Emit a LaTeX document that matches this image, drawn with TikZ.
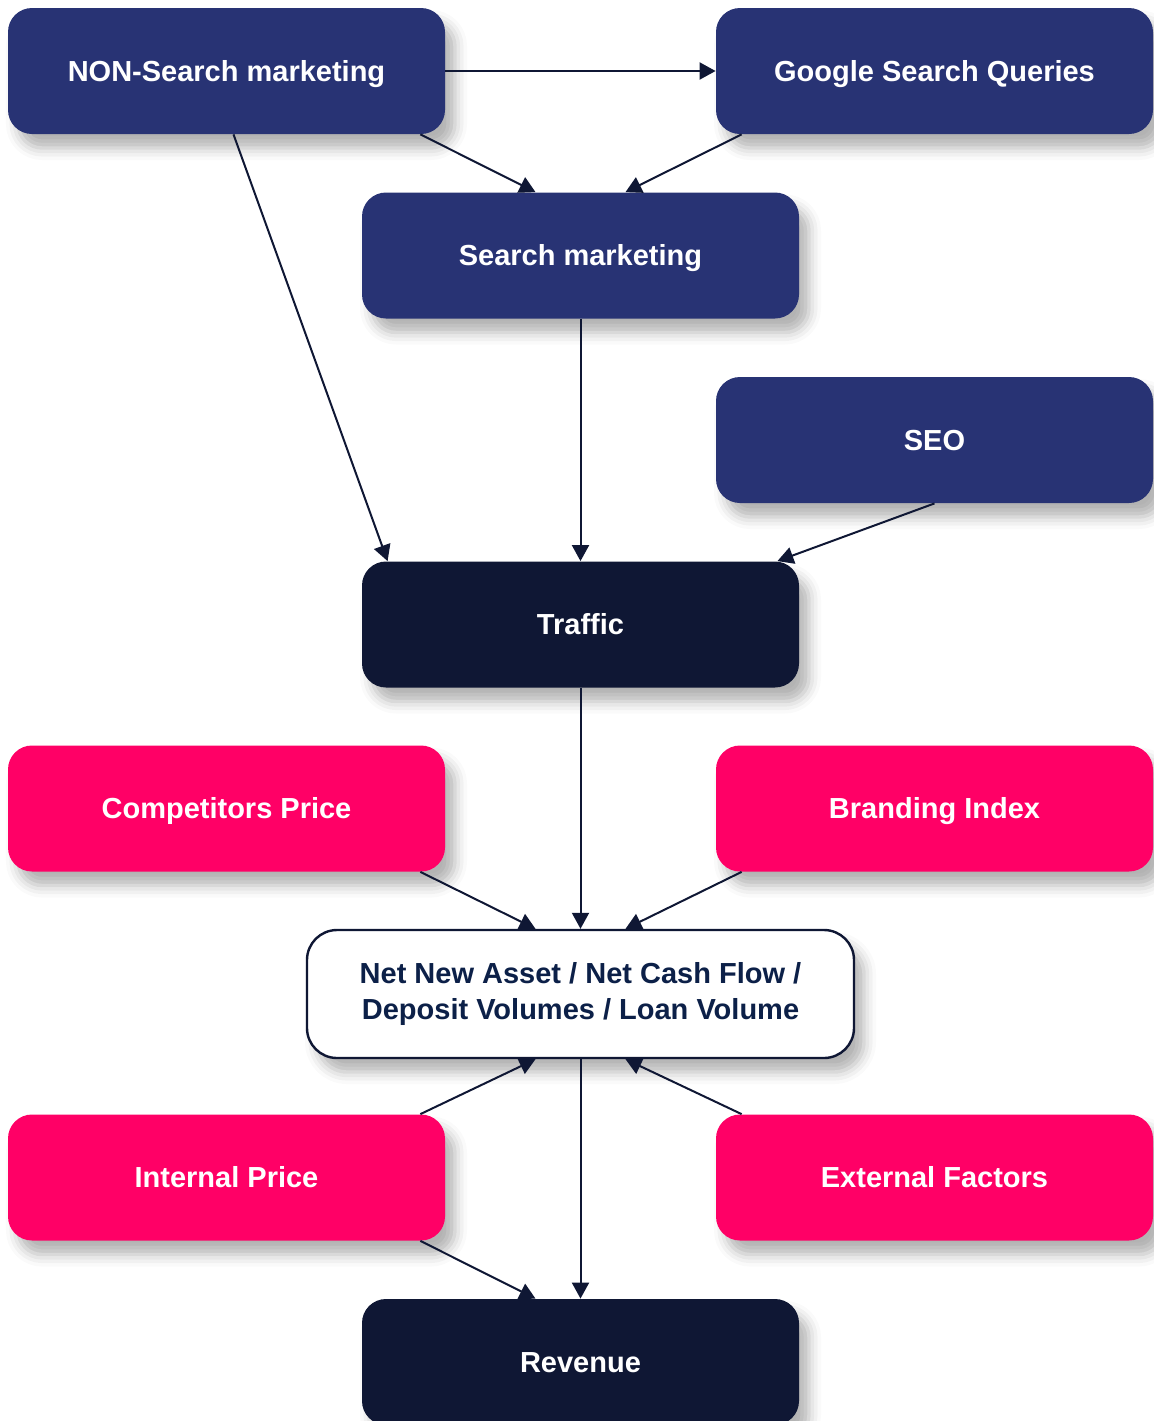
\documentclass[tikz,border=0pt]{standalone}
\usepackage{fontspec}
\setmainfont{Liberation Sans}
\usetikzlibrary{arrows.meta,calc,shadows.blur}

\definecolor{navy}{RGB}{40,51,116}
\definecolor{ink}{RGB}{15,23,52}
\definecolor{hot}{RGB}{255,0,102}
\definecolor{deep}{RGB}{12,32,72}

\tikzset{
  box/.style={rectangle, rounded corners=12pt, minimum width=218.5pt, minimum height=63pt,
    inner sep=0pt, text=white, font=\fontsize{14.5}{18}\selectfont\bfseries,
    blur shadow={shadow xshift=5pt, shadow yshift=-7pt, shadow blur radius=6pt, shadow opacity=30}},
  caps/.style={text height=10.4pt, text depth=0pt},
  bluebox/.style={box, caps, fill=navy},
  darkbox/.style={box, caps, fill=ink},
  pinkbox/.style={box, caps, fill=hot},
  whitebox/.style={box, fill=white, draw=ink, line width=1.2pt, minimum width=273.5pt,
    minimum height=64pt, rounded corners=15pt, text=deep, align=center,
    font=\fontsize{14.5}{18}\selectfont\bfseries},
  link/.style={ink, line width=1pt, -{Triangle[width=8.5pt,length=8pt]}}
}

\begin{document}
\begin{tikzpicture}[x=0.5pt,y=-0.5pt]
\useasboundingbox (0,0) rectangle (1153,1421);

\node[bluebox] (non) at (226.5,71) {NON-Search marketing};
\node[bluebox] (google) at (934.5,71) {Google Search Queries};
\node[bluebox] (search) at (580.5,255.5) {Search marketing};
\node[bluebox] (seo) at (934.5,440) {SEO};
\node[darkbox] (traffic) at (580.5,624.5) {Traffic};
\node[pinkbox] (comp) at (226.5,808.5) {Competitors Price};
\node[pinkbox] (brand) at (934.5,808.5) {Branding Index};
\node[whitebox] (net) at (580.5,994) {Net New Asset / Net Cash Flow /\\ Deposit Volumes / Loan Volume};
\node[pinkbox] (internal) at (226.5,1177.5) {Internal Price};
\node[pinkbox] (external) at (934.5,1177.5) {External Factors};
\node[darkbox] (revenue) at (580.5,1362) {Revenue};

\begin{scope}[link]
    \draw (non.east) -- (google.west);
    \draw ($(non.south east)+(-25,0)$) -- ($(search.north)+(-45,0)$);
    \draw ($(google.south west)+(26,0)$) -- ($(search.north)+(45,0)$);
    \draw ($(non.south)+(7,0)$) -- ($(traffic.north west)+(26,0)$);
    \draw (search.south) -- (traffic.north);
    \draw (seo.south) -- ($(traffic.north east)+(-22,0)$);
    \draw (traffic.south) -- (net.north);
    \draw ($(comp.south east)+(-25,0)$) -- ($(net.north)+(-45,0)$);
    \draw ($(brand.south west)+(26,0)$) -- ($(net.north)+(45,0)$);
    \draw ($(internal.north east)+(-25,0)$) -- ($(net.south)+(-45,0)$);
    \draw ($(external.north west)+(26,0)$) -- ($(net.south)+(45,0)$);
    \draw (net.south) -- (revenue.north);
    \draw ($(internal.south east)+(-25,0)$) -- ($(revenue.north)+(-45,0)$);
\end{scope}
\end{tikzpicture}
\end{document}
